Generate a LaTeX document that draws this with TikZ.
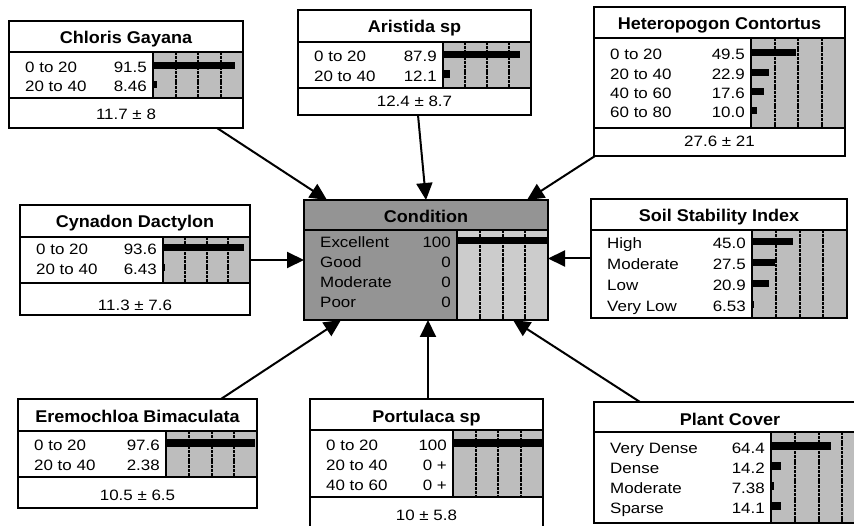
\documentclass[tikz,border=0pt]{standalone}
\usepackage{fontspec}
\setmainfont{Liberation Sans}
\newfontfamily\datf[FakeStretch=1.13]{Liberation Sans}
\newfontfamily\ttlf[FakeStretch=1.06]{Liberation Sans}
\usetikzlibrary{arrows.meta,fit}
\tikzset{
  frame/.style={draw, line width=2pt, inner sep=0pt, outer sep=0pt},
  sepline/.style={line width=1.8pt},
  shade/.style={fill=black!26},
  gridline/.style={line width=2pt, dash pattern=on 3pt off 0.8pt},
  lab/.style={font=\datf\fontsize{15}{18}\selectfont, inner sep=0pt, anchor=base west},
  val/.style={font=\datf\fontsize{15}{18}\selectfont, inner sep=0pt, anchor=base east},
  mean/.style={font=\datf\fontsize{15}{18}\selectfont, inner sep=0pt, anchor=base},
  ttl/.style={font=\ttlf\bfseries\fontsize{17}{20}\selectfont, inner sep=0pt, anchor=base},
  arr/.style={line width=2pt, -{Triangle[length=17pt,width=16pt]}},
}
\newcommand\nbParams[7]{\def\bL{#1}\def\bTop{#2}\def\bR{#3}\def\bH{#4}\def\bD{#5}\def\bBot{#6}\def\bB{#7}}
\newcommand\nbGrid{%
  \fill[shade] (\bB,\bH) rectangle (\bR,\bD);
  \foreach \k in {1,2,3} \draw[gridline] ({\bB+\k*(\bR-\bB)/4},\bH) -- ({\bB+\k*(\bR-\bB)/4},\bD);
}
\newcommand\nbRow[4]{%
  \node[lab] at (\bL+16,#1) {#2};
  \node[val] at (\bB-6,#1) {#3};
  \fill (\bB,#1-11) rectangle ({\bB+max(0,#4/100*(\bR-\bB+4)-4)},#1-3.5);
}
\newcommand\nbLines{%
  \draw[sepline] (\bL,\bH) -- (\bR,\bH);
  \draw[sepline] (\bB,\bH) -- (\bB,\bD);
  \draw[sepline] (\bL,\bD) -- (\bR,\bD);
}
\newcommand\nbTitle[1]{\node[ttl] at ({(\bL+\bR)/2},\bTop+23) {#1};}
\newcommand\nbMean[2]{\node[mean] at ({(\bL+\bR)/2},#1) {#2};}
\newcommand\nbFrame[1]{%
  \path (\bL,\bTop) coordinate (#1-nw) (\bR,\bBot) coordinate (#1-se);
  \node[frame, fit=(#1-nw)(#1-se)] (#1) {};
}
\begin{document}
\begin{tikzpicture}[x=1pt,y=-1pt]
\useasboundingbox (0,0) rectangle (854,526);
\fill[white] (0,0) rectangle (854,526);

% Chloris Gayana
\nbParams{9}{21}{243}{52}{98}{128}{153}
\nbGrid
\nbRow{73}{0 to 20}{91.5}{91.5}
\nbRow{92}{20 to 40}{8.46}{8.46}
\nbLines
\nbTitle{Chloris Gayana}
\nbMean{120}{11.7 ± 8}
\nbFrame{chl}

% Aristida sp
\nbParams{298}{10}{531}{42}{88}{115}{443}
\nbGrid
\nbRow{62}{0 to 20}{87.9}{87.9}
\nbRow{81.5}{20 to 40}{12.1}{12.1}
\nbLines
\nbTitle{Aristida sp}
\nbMean{107}{12.4 ± 8.7}
\nbFrame{ari}

% Heteropogon Contortus
\nbParams{594}{7}{845}{38}{128}{156}{751}
\nbGrid
\nbRow{60}{0 to 20}{49.5}{49.5}
\nbRow{80}{20 to 40}{22.9}{22.9}
\nbRow{99}{40 to 60}{17.6}{17.6}
\nbRow{118}{60 to 80}{10.0}{10.0}
\nbLines
\nbTitle{Heteropogon Contortus}
\nbMean{147}{27.6 ± 21}
\nbFrame{het}

% Cynadon Dactylon
\nbParams{20}{205}{250}{237}{283}{315}{163}
\nbGrid
\nbRow{255}{0 to 20}{93.6}{93.6}
\nbRow{275}{20 to 40}{6.43}{6.43}
\nbLines
\nbTitle{Cynadon Dactylon}
\nbMean{311}{11.3 ± 7.6}
\nbFrame{cyn}

% Condition
\nbParams{304}{200}{548}{230}{320}{320}{457}
\fill[black!42] (\bL,\bTop) rectangle (\bR,\bBot);
\fill[black!20] (\bB,\bH) rectangle (\bR,\bD);
\foreach \k in {1,2,3} \draw[gridline] ({\bB+\k*(\bR-\bB)/4},\bH) -- ({\bB+\k*(\bR-\bB)/4},\bD);
\nbRow{248}{Excellent}{100}{100}
\nbRow{268}{Good}{0}{0}
\nbRow{288}{Moderate}{0}{0}
\nbRow{308}{Poor}{0}{0}
\nbLines
\nbTitle{Condition}
\nbFrame{cond}

% Soil Stability Index
\nbParams{591}{199}{847}{230}{318}{318}{752}
\nbGrid
\nbRow{249}{High}{45.0}{45.0}
\nbRow{270}{Moderate}{27.5}{27.5}
\nbRow{291}{Low}{20.9}{20.9}
\nbRow{312}{Very Low}{6.53}{6.53}
\nbLines
\nbTitle{Soil Stability Index}
\nbFrame{soil}

% Eremochloa Bimaculata
\nbParams{18}{399}{257}{431}{477}{508}{166}
\nbGrid
\nbRow{450}{0 to 20}{97.6}{97.6}
\nbRow{470}{20 to 40}{2.38}{2.38}
\nbLines
\nbTitle{Eremochloa Bimaculata}
\nbMean{500}{10.5 ± 6.5}
\nbFrame{ere}

% Portulaca sp
\nbParams{310}{399}{543}{430}{497}{530}{453}
\nbGrid
\nbRow{450}{0 to 20}{100}{100}
\nbRow{470}{20 to 40}{0 +}{0}
\nbRow{490}{40 to 60}{0 +}{0}
\nbLines
\nbTitle{Portulaca sp}
\nbMean{520}{10 ± 5.8}
\nbFrame{por}

% Plant Cover
\nbParams{594}{402}{866}{432}{523}{523}{771}
\nbGrid
\nbRow{453}{Very Dense}{64.4}{64.4}
\nbRow{473}{Dense}{14.2}{14.2}
\nbRow{493}{Moderate}{7.38}{7.38}
\nbRow{513}{Sparse}{14.1}{14.1}
\nbLines
\nbTitle{Plant Cover}
\nbFrame{plc}

% connectors
\draw[arr] ([xshift=208pt]chl.south west) -- ([xshift=23pt]cond.north west);
\draw[arr] ([xshift=120pt]ari.south west) -- ([xshift=122pt]cond.north west);
\draw[arr] ([xshift=1pt]het.south west) -- ([xshift=223pt]cond.north west);
\draw[arr] (cyn.east) -- (cyn.east -| cond.west);
\draw[arr] (soil.west) -- (soil.west -| cond.east);
\draw[arr] ([xshift=203pt]ere.north west) -- ([xshift=37pt]cond.south west);
\draw[arr] ([xshift=118pt]por.north west) -- ([xshift=124pt]cond.south west);
\draw[arr] ([xshift=46pt]plc.north west) -- ([xshift=209pt]cond.south west);
\end{tikzpicture}
\end{document}
